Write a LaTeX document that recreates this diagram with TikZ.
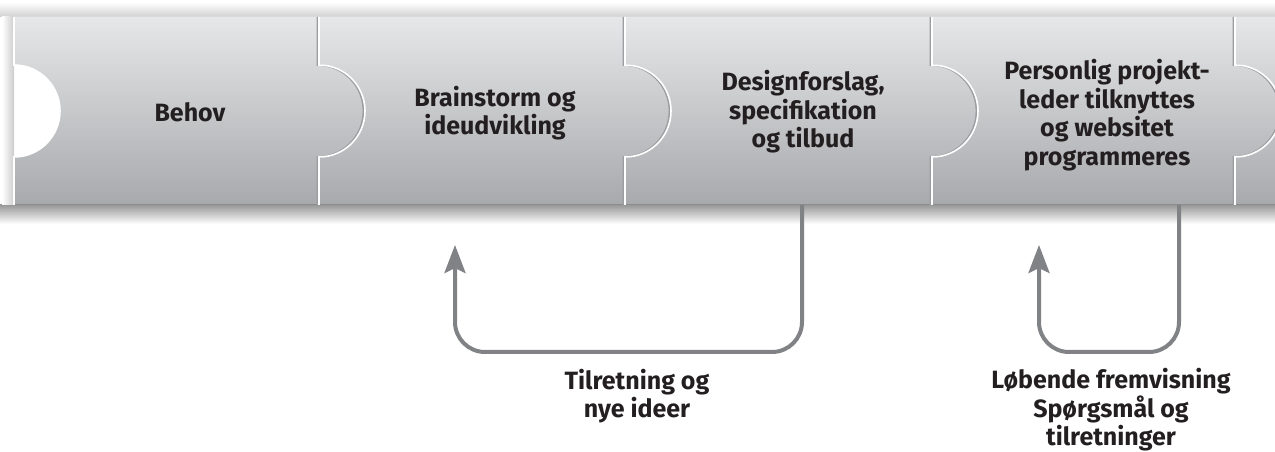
\documentclass[tikz,border=0pt]{standalone}
\usepackage{fontspec}
\setmainfont{Fira Sans}
\usetikzlibrary{arrows.meta, calc}

\definecolor{bandtop}{HTML}{E6E7E8}
\definecolor{bandbot}{HTML}{A7A9AC}
\definecolor{seam}{HTML}{9B9DA0}
\definecolor{loopgray}{HTML}{808285}
\definecolor{ink}{HTML}{231F20}

\begin{document}
\begin{tikzpicture}[
    x = 1pt, y = 1pt,
    every node/.style = {align = center, text = ink,
      font = \fontsize{25}{28.5}\selectfont\bfseries},
    seamline/.style = {white, line width = 1.6pt},
    seamshade/.style = {seam, line width = 1.6pt},
    loop/.style = {draw = loopgray, line width = 4pt, rounded corners = 30pt,
      -{Stealth[length = 28pt, width = 21pt, inset = 5pt]}}
  ]
  \useasboundingbox (0,0) rectangle (1275,452);

  % soft shadow round the band
  \shade[top color = black!40, bottom color = white] (0,228) rectangle (1275,247);
  \shade[top color = white, bottom color = black!18] (0,435) rectangle (1275,450);
  \shade[left color = white, right color = black!20] (2,247) rectangle (14,435);

  % the band of pieces
  \shade[top color = bandtop, bottom color = bandbot]
    (14,435) -- (14,387) arc[start angle = 90, end angle = -90, radius = 46]
    -- (14,247) -- (1275,247) -- (1275,435) -- cycle;
  \draw[black!15, line width = 1pt] (14,435) -- (1275,435);
  \draw[black!45, line width = 1pt] (14,247) -- (1275,247);
  \draw[seamline] (14,435) -- (14,387)
    arc[start angle = 90, end angle = -90, radius = 46] -- (14,247);
  \foreach \sx in {319, 625, 932, 1235} {
    \draw[seamshade] (\sx-1.6,435) -- (\sx-1.6,387)
      arc[start angle = 90, end angle = -90, radius = 46] -- (\sx-1.6,247);
    \draw[seamline] (\sx,435) -- (\sx,387)
      arc[start angle = 90, end angle = -90, radius = 46] -- (\sx,247);
  }

  \node (behov)   at (190,340)  {Behov};
  \node (brain)   at (495,339)  {Brainstorm og\\ideudvikling};
  \node (design)  at (803,340)  {Designforslag,\\specifikation\\og tilbud};
  \node (projekt) at (1107,337) {Personlig projekt-\\leder tilknyttes\\og websitet\\programmeres};

  % feedback loops
  \coordinate (out1) at (802,247);
  \coordinate (in1)  at (455,207);
  \coordinate (out2) at (1179,247);
  \coordinate (in2)  at (1039,207);
  \draw[loop] (out1) -- ++(0,-147) -| (in1);
  \draw[loop] (out2) -- ++(0,-147) -| (in2);

  \node (fb1) at (637,56) {Tilretning og\\nye ideer};
  \node (fb2) at (1111,42) {Løbende fremvisning\\Spørgsmål og\\tilretninger};
\end{tikzpicture}
\end{document}
